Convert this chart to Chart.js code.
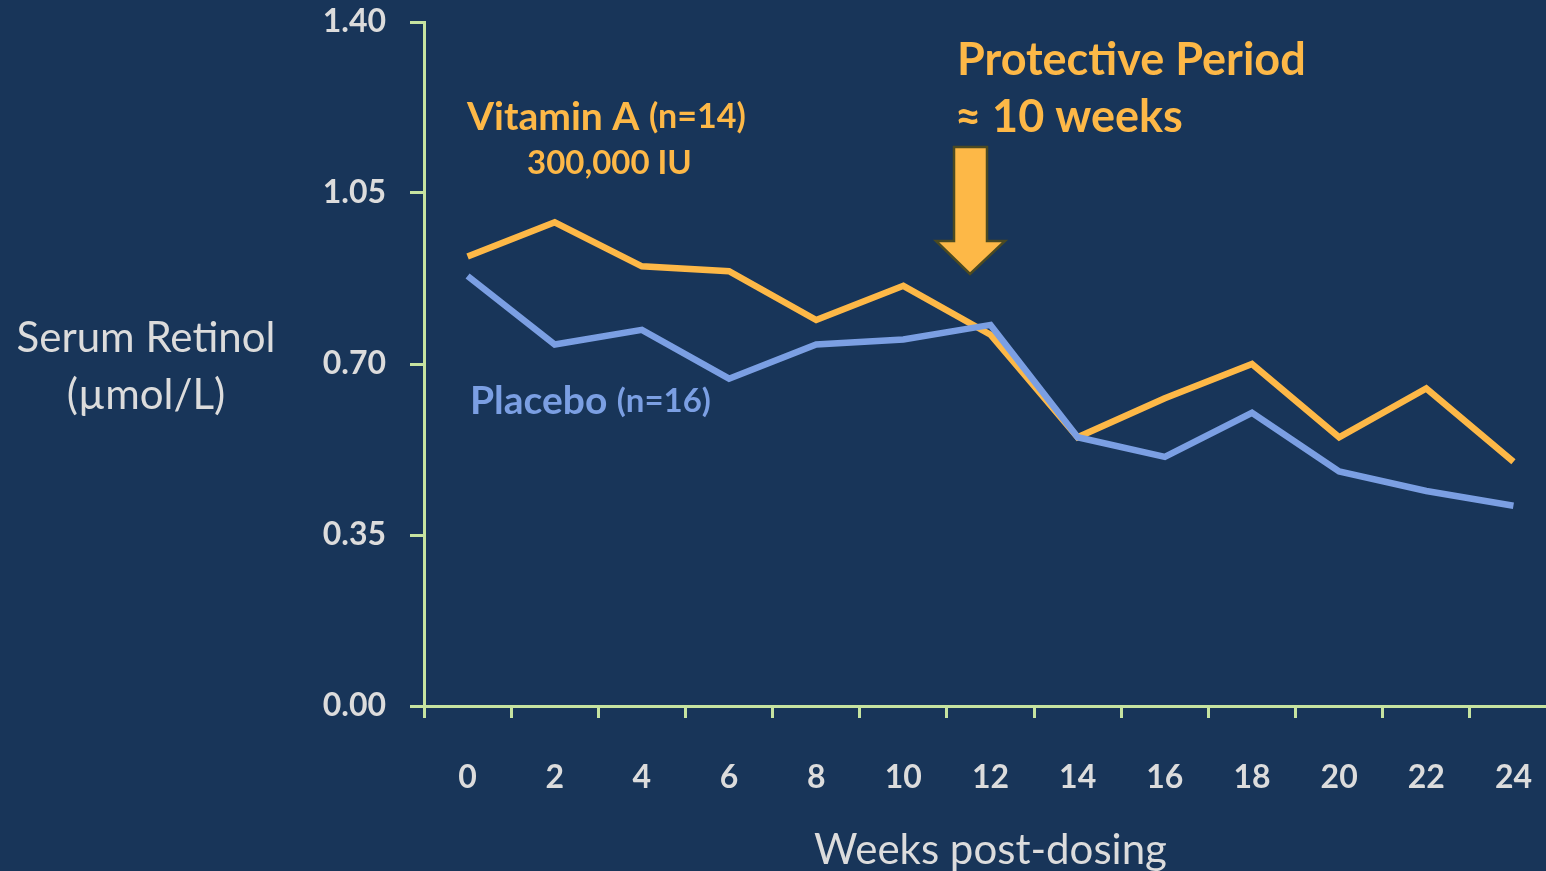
<!DOCTYPE html>
<html>
<head>
<meta charset="utf-8">
<script src="https://cdn.jsdelivr.net/npm/chart.js@4"></script>
<style>
  html, body { margin: 0; padding: 0; background: #183559; overflow: hidden; }
  #wrap { width: 1572px; height: 871px; }
</style>
</head>
<body>
<div id="wrap"><canvas id="retinolChart" width="1572" height="871"></canvas></div>
<script>
// weeks after dosing and mean serum retinol (µmol/L)
const weeks = ['0', '2', '4', '6', '8', '10', '12', '14', '16', '18', '20', '22', '24'];
const vitaminA = [0.92, 0.99, 0.90, 0.89, 0.79, 0.86, 0.76, 0.55, 0.63, 0.70, 0.55, 0.65, 0.50];
const placebo = [0.88, 0.74, 0.77, 0.67, 0.74, 0.75, 0.78, 0.55, 0.51, 0.60, 0.48, 0.44, 0.41];
const yTicks = [0, 0.35, 0.70, 1.05, 1.40];

const ORANGE = '#fdb847';
const BLUE = '#7b9fe3';
const AXIS = '#c6e3a0';
const TEXT = '#dcdcdc';
const FONT = 'Lato, "Open Sans", sans-serif';

// draws a run of [text, size, weight] pieces starting at x
function drawRun(ctx, x, y, parts, color) {
    ctx.fillStyle = color;
    ctx.textBaseline = 'middle';
    ctx.textAlign = 'left';
    parts.forEach(p => {
        ctx.font = p[2] + ' ' + p[1] + 'px ' + FONT;
        ctx.fillText(p[0], x, y);
        x += ctx.measureText(p[0]).width;
    });
}

const annotations = {
    id: 'annotations',
    afterDraw(chart) {
        const ctx = chart.ctx;
        ctx.save();
        // y axis title, horizontal, two lines
        ctx.fillStyle = TEXT;
        ctx.textAlign = 'center';
        ctx.textBaseline = 'middle';
        ctx.font = '42px ' + FONT;
        ctx.fillText('Serum Retinol', 146, 338);
        ctx.fillText('(µmol/L)', 146, 395);

        drawRun(ctx, 467, 117, [['Vitamin A ', 39, 'bold'], ['(n=14)', 34, 'bold']], ORANGE);
        drawRun(ctx, 527, 163, [['300,000 IU', 33, 'bold']], ORANGE);
        drawRun(ctx, 470, 401, [['Placebo ', 39, 'bold'], ['(n=16)', 33, 'bold']], BLUE);
        drawRun(ctx, 957, 60, [['Protective Period', 45, 'bold']], ORANGE);
        drawRun(ctx, 955, 117, [['≈ 10 weeks', 45, 'bold']], ORANGE);

        // down arrow
        ctx.beginPath();
        ctx.moveTo(954, 147);
        ctx.lineTo(987, 147);
        ctx.lineTo(987, 241);
        ctx.lineTo(1005, 241);
        ctx.lineTo(970, 274);
        ctx.lineTo(936, 241);
        ctx.lineTo(954, 241);
        ctx.closePath();
        ctx.fillStyle = ORANGE;
        ctx.fill();
        ctx.lineWidth = 2.5;
        ctx.strokeStyle = '#4b4a22';
        ctx.stroke();
        ctx.restore();
    }
};

new Chart(document.getElementById('retinolChart'), {
    type: 'line',
    data: {
        labels: weeks,
        datasets: [
            { label: 'Vitamin A', data: vitaminA, borderColor: ORANGE, borderWidth: 6.5, pointRadius: 0, tension: 0, order: 1 },
            { label: 'Placebo', data: placebo, borderColor: BLUE, borderWidth: 6.5, pointRadius: 0, tension: 0, order: 0 }
        ]
    },
    options: {
        responsive: false,
        animation: false,
        layout: { padding: { top: 22, left: 0, right: 0, bottom: 0 } },
        plugins: { legend: { display: false }, tooltip: { enabled: false } },
        scales: {
            x: {
                offset: true,
                grid: { offset: true, drawOnChartArea: false, color: AXIS, lineWidth: 3, tickLength: 12 },
                border: { color: AXIS, width: 3 },
                ticks: { color: TEXT, font: { family: FONT, size: 32, weight: 'bold' }, padding: 40, maxRotation: 0 },
                title: { display: true, text: 'Weeks post-dosing', color: TEXT, font: { family: FONT, size: 42 }, padding: { top: 22, bottom: -5 } },
                afterFit(scale) { scale.height = 871 - 706; }
            },
            y: {
                min: 0,
                max: 1.4,
                afterBuildTicks(scale) { scale.ticks = yTicks.map(v => ({ value: v })); },
                grid: { drawOnChartArea: false, color: AXIS, lineWidth: 3, tickLength: 14 },
                border: { color: AXIS, width: 3 },
                ticks: {
                    color: TEXT,
                    font: { family: FONT, size: 32, weight: 'bold' },
                    padding: 24,
                    callback: v => v.toFixed(2)
                },
                afterFit(scale) {
                    scale.width = 424;
                    scale.paddingTop = 0;
                    scale.paddingBottom = 0;
                }
            }
        }
    },
    plugins: [annotations]
});
</script>
</body>
</html>
